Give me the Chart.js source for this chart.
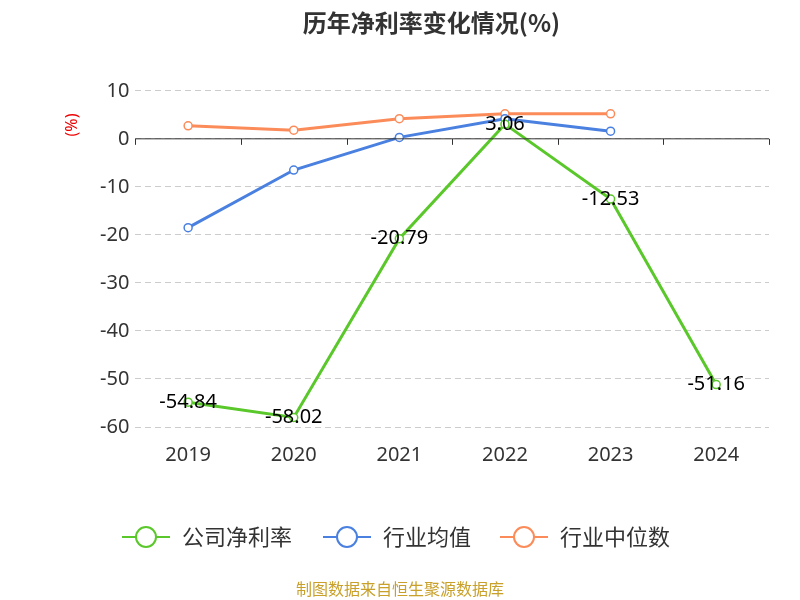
<!DOCTYPE html>
<html><head><meta charset="utf-8">
<script src="https://cdn.jsdelivr.net/npm/chart.js@4/dist/chart.umd.min.js"></script>
<style>body{margin:0;background:#fff}#wrap{width:800px;height:600px}</style>
</head><body><div id="wrap"><canvas id="c"></canvas></div>
<script>
const years = ['2019', '2020', '2021', '2022', '2023', '2024'];
const companyRate = [-54.84, -58.02, -20.79, 3.06, -12.53, -51.16];
const industryAvg = [-18.5, -6.5, 0.3, 4.2, 1.6, null];
const industryMedian = [2.7, 1.8, 4.2, 5.2, 5.2, null];
const legendX = [122, 323, 500];

// 标签、零轴线、单位、图例和来源
const extras = {
    id: 'extras',
    afterDatasetsDraw(chart) {
        const ctx = chart.ctx, x = chart.scales.x, y = chart.scales.y;
        const y0 = y.getPixelForValue(0);
        ctx.save();
        ctx.strokeStyle = '#333'; ctx.lineWidth = 1;
        ctx.beginPath(); ctx.moveTo(x.left, y0); ctx.lineTo(x.right, y0);
        const step = (x.right - x.left) / years.length;
        for (let i = 0; i <= years.length; i++) {
            const px = Math.round(x.left + i * step) + 0.5;
            ctx.moveTo(px, y0); ctx.lineTo(px, y0 + 6);
        }
        ctx.stroke();
        ctx.font = '20px "Noto Sans"'; ctx.fillStyle = '#000';
        ctx.textAlign = 'center'; ctx.textBaseline = 'middle';
        const meta = chart.getDatasetMeta(0);
        companyRate.forEach((v, i) => {
            const p = meta.data[i];
            ctx.fillText(v.toFixed(2), p.x, p.y);
        });
        // 图例
        chart.data.datasets.forEach((d, i) => {
            const lx = legendX[i], ly = 537;
            ctx.strokeStyle = d.borderColor; ctx.lineWidth = 2;
            ctx.beginPath(); ctx.moveTo(lx, ly); ctx.lineTo(lx + 48, ly); ctx.stroke();
            ctx.fillStyle = '#fff';
            ctx.beginPath(); ctx.arc(lx + 24, ly, 10, 0, Math.PI * 2); ctx.fill(); ctx.stroke();
            ctx.fillStyle = '#333'; ctx.textAlign = 'left';
            ctx.font = '22px "Noto Sans CJK SC"';
            ctx.fillText(d.label, lx + 60, ly);
        });
        ctx.fillStyle = '#e00'; ctx.font = '16px "Noto Sans"'; ctx.textAlign = 'center';
        ctx.translate(72, 125); ctx.rotate(-Math.PI / 2);
        ctx.fillText('(%)', 0, 0);
        ctx.restore();
        ctx.save();
        ctx.font = '16px "Noto Sans CJK SC"'; ctx.fillStyle = '#c8a02a';
        ctx.textAlign = 'center'; ctx.textBaseline = 'middle';
        ctx.fillText('制图数据来自恒生聚源数据库', 400, 589);
        ctx.restore();
    }
};

new Chart(document.getElementById('c'), {
    type: 'line',
    data: {
        labels: years,
        datasets: [
            { label: '公司净利率', data: companyRate, borderColor: '#5ac82a', backgroundColor: '#fff', borderWidth: 3, pointRadius: 4, pointBorderWidth: 1.5, tension: 0 },
            { label: '行业均值', data: industryAvg, borderColor: '#4a80e0', backgroundColor: '#fff', borderWidth: 3, pointRadius: 4, pointBorderWidth: 1.5, tension: 0 },
            { label: '行业中位数', data: industryMedian, borderColor: '#fb8c5a', backgroundColor: '#fff', borderWidth: 3, pointRadius: 4, pointBorderWidth: 1.5, tension: 0 }
        ]
    },
    options: {
        responsive: true, maintainAspectRatio: false, animation: false,
        layout: { padding: { left: 94, right: 31, top: 0, bottom: 125 } },
        scales: {
            y: {
                min: -60, max: 10,
                ticks: { stepSize: 10, color: '#333', font: { size: 20, family: 'Noto Sans' }, padding: 6 },
                grid: { color: '#ccc', drawTicks: false, tickLength: 0 },
                border: { display: false, dash: [6, 4] }
            },
            x: {
                offset: true,
                ticks: { color: '#333', font: { size: 20, family: 'Noto Sans' }, padding: 8 },
                grid: { display: false, offset: true },
                border: { display: false }
            }
        },
        plugins: {
            title: { display: true, text: '历年净利率变化情况(%)', color: '#333', font: { size: 24, weight: 'bold', family: 'Noto Sans CJK SC' }, padding: { top: 8, bottom: 54 } },
            legend: { display: false },
            tooltip: { enabled: false }
        }
    },
    plugins: [extras]
});
</script></body></html>
